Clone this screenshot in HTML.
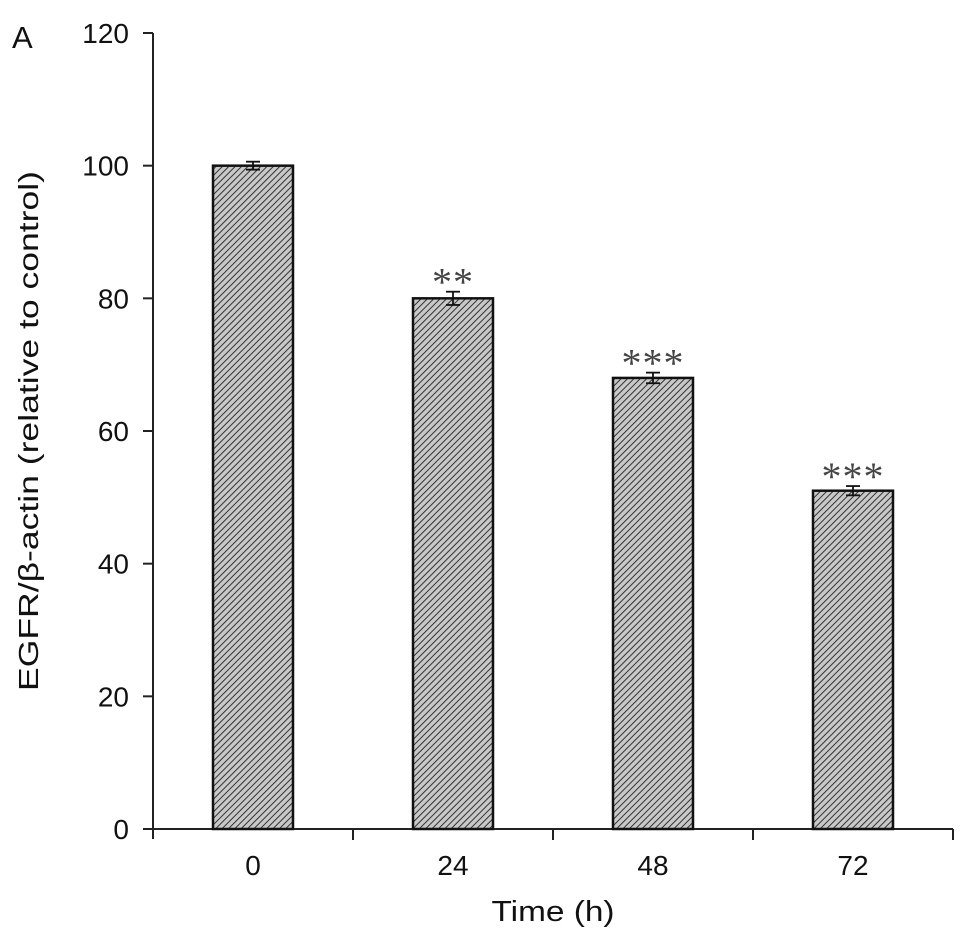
<!DOCTYPE html>
<html><head><meta charset="utf-8"><style>
html,body{margin:0;padding:0;background:#fff;}
svg{display:block;font-family:"Liberation Sans",Arial,sans-serif;}
</style></head><body>
<svg id="chart" width="969" height="940" viewBox="0 0 969 940">
<defs>
<pattern id="hatch" patternUnits="userSpaceOnUse" width="4.5" height="4.5" patternTransform="rotate(45)">
<rect width="4.5" height="4.5" fill="#c8c8c8"/>
<line x1="0" y1="0" x2="0" y2="4.5" stroke="#333" stroke-width="2"/>
</pattern>
</defs>
<text x="12" y="48" font-size="31" fill="#111">A</text>
<text transform="translate(38,431) rotate(-90)" text-anchor="middle" font-size="28" textLength="520" lengthAdjust="spacingAndGlyphs" fill="#111">EGFR/β-actin (relative to control)</text>
<text x="553" y="921" text-anchor="middle" font-size="29" textLength="123" lengthAdjust="spacingAndGlyphs" fill="#111">Time (h)</text>
<g id="axes"></g>
<g id="bars"></g>
</svg>
<script>
const categories = ["0","24","48","72"];
const values = [100, 80, 68, 51];
const errors = [0.6, 1.0, 0.8, 0.7];
const stars = ["", "**", "***", "***"];
const yTicks = [0,20,40,60,80,100,120];

const NS="http://www.w3.org/2000/svg";
const x0=153, x1=953, yTop=33, yBot=829, yMax=120;
const y = v => yBot - (v/yMax)*(yBot-yTop);
const band = (x1-x0)/categories.length;
const xc = i => x0 + band*(i+0.5);
function mk(tag, attrs, parent){const e=document.createElementNS(NS,tag);for(const k in attrs)e.setAttribute(k,attrs[k]);parent.appendChild(e);return e;}
const axes=document.getElementById('axes'), bars=document.getElementById('bars');

const ya=mk('line',{x1:x0,y1:yTop,x2:x0,y2:yBot+10,stroke:'#222','stroke-width':2},axes);


const xa=mk('line',{x1:x0-10,y1:yBot,x2:x1,y2:yBot,stroke:'#222','stroke-width':2},axes);


yTicks.forEach(t=>{
  mk('line',{x1:x0-10,y1:y(t),x2:x0,y2:y(t),stroke:'#222','stroke-width':2},axes);
  const tx=mk('text',{x:x0-24,y:y(t)+10,'text-anchor':'end','font-size':28,fill:'#111'},axes);
  tx.textContent=t;
  
  
});
for(let i=1;i<=categories.length;i++){
  mk('line',{x1:x0+band*i,y1:yBot,x2:x0+band*i,y2:yBot+11,stroke:'#222','stroke-width':2},axes);
}
const bw=80;
categories.forEach((c,i)=>{
  const tx=mk('text',{x:xc(i),y:yBot+46,'text-anchor':'middle','font-size':28,fill:'#111'},axes);
  tx.textContent=c;
  
  
  const r=mk('rect',{x:xc(i)-bw/2,y:y(values[i]),width:bw,height:yBot-y(values[i]),fill:'url(#hatch)',stroke:'#111','stroke-width':2.5},bars);
  
  
  const e=errors[i];
  const g=mk('g',{stroke:'#111','stroke-width':1.8},bars);
  
  
  mk('line',{x1:xc(i),y1:y(values[i]+e),x2:xc(i),y2:y(values[i]-e)},g);
  mk('line',{x1:xc(i)-7,y1:y(values[i]+e),x2:xc(i)+7,y2:y(values[i]+e)},g);
  mk('line',{x1:xc(i)-7,y1:y(values[i]-e),x2:xc(i)+7,y2:y(values[i]-e)},g);
  if(stars[i]){
    const s=mk('text',{x:xc(i),y:y(values[i]+e)+4,'text-anchor':'middle','font-size':40,fill:'#444','letter-spacing':'1','font-family':'"Liberation Serif",serif'},bars);
    s.textContent=stars[i];
    
    
  }
});
</script>
</body></html>
